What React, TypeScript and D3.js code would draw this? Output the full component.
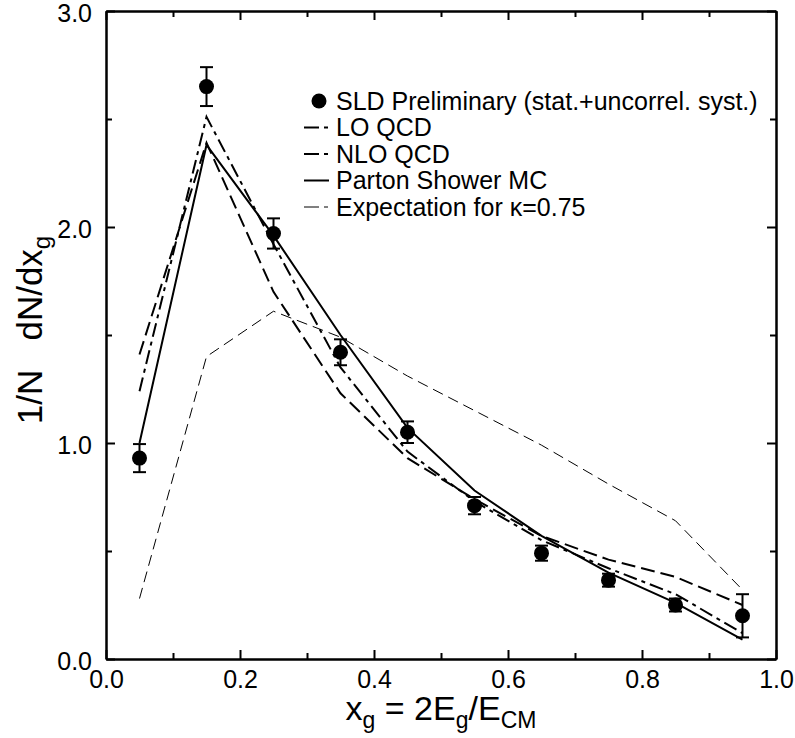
import { useEffect, useRef } from "react";
import * as d3 from "d3";

// bin centres of x_g
const XG = [0.05, 0.15, 0.25, 0.35, 0.45, 0.55, 0.65, 0.75, 0.85, 0.95];

// SLD preliminary data and errors
const SLD = [0.93, 2.65, 1.97, 1.42, 1.05, 0.71, 0.49, 0.365, 0.25, 0.2];
const SLD_ERR = [0.065, 0.09, 0.07, 0.06, 0.05, 0.04, 0.035, 0.03, 0.03, 0.1];

// theory curves
const LO_QCD = [1.24, 2.51, 1.92, 1.35, 0.96, 0.73, 0.55, 0.42, 0.3, 0.12];
const NLO_QCD = [1.41, 2.39, 1.7, 1.23, 0.93, 0.74, 0.57, 0.46, 0.38, 0.25];
const PARTON_MC = [1.0, 2.38, 1.96, 1.5, 1.07, 0.78, 0.57, 0.4, 0.26, 0.09];
const EXPECT_K075 = [0.28, 1.4, 1.61, 1.49, 1.31, 1.15, 0.99, 0.81, 0.64, 0.32];

const X_TICKS = [0, 0.2, 0.4, 0.6, 0.8, 1.0];
const X_MINOR = [0.1, 0.3, 0.5, 0.7, 0.9];
const Y_TICKS = [0, 1, 2, 3];
const Y_MINOR = [0.5, 1.5, 2.5];

const LEGEND = [
  "SLD Preliminary (stat.+uncorrel. syst.)",
  "LO QCD",
  "NLO QCD",
  "Parton Shower MC",
  "Expectation for \u03ba=0.75",
];

export default function App() {
  const ref = useRef<HTMLDivElement>(null);

  useEffect(() => {
    if (!ref.current) return;
    document.body.style.margin = "0";

    const W = 795;
    const H = 738;
    const margin = { top: 11, right: 19, bottom: 79, left: 106 };
    const width = W - margin.left - margin.right;
    const height = H - margin.top - margin.bottom;
    const font = "Arial, 'Liberation Sans', sans-serif";

    const root = d3
      .select(ref.current)
      .html("")
      .append("svg")
      .attr("width", W)
      .attr("height", H)
      .style("display", "block")
      .style("background", "#fff");

    const svg = root
      .append("g")
      .attr("transform", `translate(${margin.left},${margin.top})`);

    const x = d3.scaleLinear().domain([0, 1]).range([0, width]);
    const y = d3.scaleLinear().domain([0, 3]).range([height, 0]);

    // axes, ticks pointing inward
    const styleAxis = (g: any) => {
      g.select(".domain").attr("stroke", "#000").attr("stroke-width", 2);
      g.selectAll(".tick line").attr("stroke", "#000").attr("stroke-width", 2);
      g.selectAll(".tick text")
        .attr("fill", "#000")
        .style("font-family", font)
        .style("font-size", "25px");
    };

    svg.append("g")
      .attr("transform", `translate(0,${height})`)
      .call(d3.axisBottom(x).tickValues(X_TICKS).tickSize(-9).tickSizeOuter(0)
        .tickPadding(11).tickFormat(d3.format(".1f")))
      .call(styleAxis);
    svg.append("g")
      .attr("transform", `translate(0,${height})`)
      .call(d3.axisBottom(x).tickValues(X_MINOR).tickSize(-6).tickSizeOuter(0).tickFormat(() => ""))
      .call(styleAxis);

    svg.append("g")
      .call(d3.axisTop(x).tickValues(X_TICKS).tickSize(-9).tickSizeOuter(0).tickFormat(() => ""))
      .call(styleAxis);
    svg.append("g")
      .call(d3.axisTop(x).tickValues(X_MINOR).tickSize(-6).tickSizeOuter(0).tickFormat(() => ""))
      .call(styleAxis);

    svg.append("g")
      .call(d3.axisLeft(y).tickValues(Y_TICKS).tickSize(-9).tickSizeOuter(0)
        .tickPadding(14).tickFormat(d3.format(".1f")))
      .call(styleAxis)
      .call(g => g.selectAll(".tick text").attr("dy", "0.4em"));
    svg.append("g")
      .call(d3.axisLeft(y).tickValues(Y_MINOR).tickSize(-6).tickSizeOuter(0).tickFormat(() => ""))
      .call(styleAxis);

    svg.append("g")
      .attr("transform", `translate(${width},0)`)
      .call(d3.axisRight(y).tickValues(Y_TICKS).tickSize(-9).tickSizeOuter(0).tickFormat(() => ""))
      .call(styleAxis);
    svg.append("g")
      .attr("transform", `translate(${width},0)`)
      .call(d3.axisRight(y).tickValues(Y_MINOR).tickSize(-6).tickSizeOuter(0).tickFormat(() => ""))
      .call(styleAxis);

    // curves
    const series = [
      { values: EXPECT_K075, dash: "11,6", sw: 1 },
      { values: NLO_QCD, dash: "14,6", sw: 2 },
      { values: LO_QCD, dash: "14,5,4,5", sw: 2 },
      { values: PARTON_MC, dash: null, sw: 2 },
    ];
    const line = d3.line<number>()
      .x((_, i) => x(XG[i]))
      .y(d => y(d));

    series.forEach(s => {
      svg.append("path")
        .datum(s.values)
        .attr("fill", "none")
        .attr("stroke", "#000")
        .attr("stroke-width", s.sw)
        .attr("stroke-dasharray", s.dash)
        .attr("d", line);
    });

    // data points with error bars
    const pts = svg.append("g");
    SLD.forEach((v, i) => {
      const cx = x(XG[i]);
      const lo = y(v - SLD_ERR[i]);
      const hi = y(v + SLD_ERR[i]);
      pts.append("line").attr("x1", cx).attr("x2", cx).attr("y1", lo).attr("y2", hi)
        .attr("stroke", "#000").attr("stroke-width", 2);
      [lo, hi].forEach(yy => {
        pts.append("line").attr("x1", cx - 6.5).attr("x2", cx + 6.5).attr("y1", yy).attr("y2", yy)
          .attr("stroke", "#000").attr("stroke-width", 2);
      });
      pts.append("circle").attr("cx", cx).attr("cy", y(v)).attr("r", 7.5).attr("fill", "#000");
    });

    // legend
    const leg = root.append("g").style("font-family", font).style("font-size", "25px");
    const rowY = (i: number) => 101 + i * 26.5;
    leg.append("circle").attr("cx", 319).attr("cy", rowY(0)).attr("r", 7.5).attr("fill", "#000");
    const samples = [series[2], series[1], series[3], series[0]];
    samples.forEach((s, k) => {
      leg.append("line")
        .attr("x1", 304).attr("x2", 329)
        .attr("y1", rowY(k + 1)).attr("y2", rowY(k + 1))
        .attr("stroke", "#000")
        .attr("stroke-width", s.sw)
        .attr("stroke-dasharray", s.dash ? "15,5,4,5" : null);
    });
    LEGEND.forEach((t, i) => {
      leg.append("text")
        .attr("x", 336)
        .attr("y", rowY(i))
        .attr("dy", "0.35em")
        .attr("fill", "#000")
        .text(t);
    });

    // axis titles
    const xt = root.append("text")
      .attr("x", margin.left + width / 2)
      .attr("y", 720)
      .attr("text-anchor", "middle")
      .style("font-family", font)
      .style("font-size", "34px");
    xt.append("tspan").text("x");
    xt.append("tspan").attr("dy", 8).style("font-size", "23px").text("g");
    xt.append("tspan").attr("dy", -8).text(" = 2E");
    xt.append("tspan").attr("dy", 8).style("font-size", "23px").text("g");
    xt.append("tspan").attr("dy", -8).text("/E");
    xt.append("tspan").attr("dy", 8).style("font-size", "23px").text("CM");

    const yt = root.append("text")
      .attr("transform", `translate(42,330) rotate(-90)`)
      .attr("text-anchor", "middle")
      .style("font-family", font)
      .style("font-size", "35px")
      .style("white-space", "pre");
    yt.append("tspan").text("1/N   dN/dx");
    yt.append("tspan").attr("dy", 8).style("font-size", "24px").text("g");
  }, []);

  return <div ref={ref}></div>;
}
